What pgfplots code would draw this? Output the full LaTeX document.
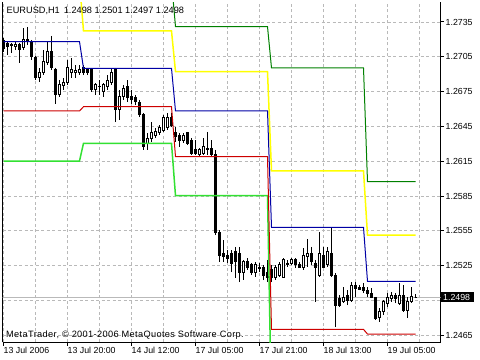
\documentclass[border=0pt]{standalone}
\usepackage{fontspec}
\setmainfont{Liberation Sans}
\newfontfamily\mtwide[LetterSpace=4]{Liberation Sans}
\usepackage{pgfplots}
\usepackage{pgfplotstable}
\pgfplotsset{compat=1.18}
\usepgfplotslibrary{statistics}
\definecolor{mtblue}{RGB}{0,0,165}
\definecolor{mtred}{RGB}{205,0,0}
\definecolor{mtgreen}{RGB}{0,128,0}
\definecolor{mtlime}{RGB}{50,225,50}
\definecolor{mtyellow}{RGB}{255,255,0}
\definecolor{mtgrid}{RGB}{185,185,185}
\pgfplotsset{candle/.style={draw=black, line width=1bp, boxplot/draw direction=y, boxplot/box extend=0.5, boxplot/whisker extend=0}}
\begin{document}
\pgfplotstableread{
i l bl bh h t
0 1.27092 1.27118 1.27187 1.27212 0
1 1.27066 1.27143 1.27161 1.27178 0
2 1.27083 1.27148 1.27152 1.27169 0
3 1.27109 1.27143 1.27152 1.27178 1
4 1.26997 1.27109 1.27152 1.27169 0
5 1.27109 1.27126 1.27195 1.27299 1
6 1.27152 1.27187 1.27195 1.27307 0
7 1.27023 1.27049 1.27178 1.27195 0
8 1.26850 1.26868 1.27040 1.27057 0
9 1.26833 1.26868 1.26919 1.26954 1
10 1.26893 1.26911 1.27006 1.27109 1
11 1.26980 1.26997 1.27092 1.27178 1
12 1.26937 1.26954 1.27092 1.27230 0
13 1.26644 1.26721 1.26937 1.26954 0
14 1.26704 1.26721 1.26807 1.26850 1
15 1.26764 1.26799 1.26825 1.26868 1
16 1.26807 1.26825 1.26954 1.27023 1
17 1.26868 1.26919 1.26937 1.27040 1
18 1.26868 1.26919 1.26928 1.26980 1
19 1.26893 1.26911 1.26937 1.26980 1
20 1.26893 1.26919 1.26954 1.26980 0
21 1.26893 1.26919 1.26937 1.26954 0
22 1.26747 1.26764 1.26937 1.26954 0
23 1.26721 1.26764 1.26807 1.26825 1
24 1.26721 1.26790 1.26795 1.26850 1
25 1.26704 1.26747 1.26807 1.26825 1
26 1.26764 1.26790 1.26850 1.26893 1
27 1.26807 1.26825 1.26919 1.26954 1
28 1.26488 1.26592 1.26937 1.26954 0
29 1.26506 1.26592 1.26704 1.26764 1
30 1.26678 1.26704 1.26781 1.26807 1
31 1.26661 1.26695 1.26790 1.26850 0
32 1.26644 1.26678 1.26704 1.26764 0
33 1.26635 1.26661 1.26695 1.26721 0
34 1.26531 1.26549 1.26652 1.26678 0
35 1.26247 1.26273 1.26549 1.26566 0
36 1.26247 1.26307 1.26350 1.26394 1
37 1.26316 1.26342 1.26394 1.26488 1
38 1.26350 1.26376 1.26402 1.26437 1
39 1.26376 1.26394 1.26437 1.26462 1
40 1.26402 1.26419 1.26523 1.26549 1
41 1.26419 1.26445 1.26531 1.26566 1
42 1.26445 1.26462 1.26531 1.26566 0
43 1.26316 1.26359 1.26394 1.26445 0
44 1.26273 1.26333 1.26376 1.26394 0
45 1.26307 1.26333 1.26376 1.26394 1
46 1.26290 1.26307 1.26394 1.26402 0
47 1.26204 1.26221 1.26333 1.26350 0
48 1.26204 1.26221 1.26247 1.26333 0
49 1.26187 1.26204 1.26247 1.26264 1
50 1.26204 1.26221 1.26273 1.26350 1
51 1.26204 1.26247 1.26264 1.26402 0
52 1.26187 1.26204 1.26264 1.26333 0
53 1.25514 1.25540 1.26204 1.26247 0
54 1.25282 1.25342 1.25532 1.25557 0
55 1.25282 1.25325 1.25359 1.25471 0
56 1.25273 1.25316 1.25342 1.25385 0
57 1.25195 1.25273 1.25359 1.25385 0
58 1.25144 1.25282 1.25368 1.25411 0
59 1.25109 1.25187 1.25359 1.25411 0
60 1.25126 1.25187 1.25282 1.25299 1
61 1.25213 1.25238 1.25282 1.25316 0
62 1.25169 1.25195 1.25256 1.25273 0
63 1.25152 1.25187 1.25256 1.25282 1
64 1.25195 1.25226 1.25230 1.25273 0
65 1.25126 1.25169 1.25230 1.25256 0
66 1.25109 1.25152 1.25195 1.25299 0
67 1.25109 1.25144 1.25213 1.25256 0
68 1.25126 1.25144 1.25230 1.25256 1
69 1.25152 1.25169 1.25256 1.25282 1
70 1.25144 1.25152 1.25299 1.25316 1
71 1.25238 1.25256 1.25273 1.25299 1
72 1.25256 1.25273 1.25299 1.25316 1
73 1.25230 1.25256 1.25299 1.25316 0
74 1.25230 1.25230 1.25256 1.25282 0
75 1.25213 1.25230 1.25342 1.25402 1
76 1.25238 1.25325 1.25359 1.25480 1
77 1.25256 1.25282 1.25359 1.25411 0
78 1.24937 1.25230 1.25273 1.25299 0
79 1.25152 1.25169 1.25359 1.25540 1
80 1.25230 1.25238 1.25342 1.25411 0
81 1.25238 1.25256 1.25368 1.25411 1
82 1.25152 1.25169 1.25359 1.25583 0
83 1.24721 1.24911 1.25169 1.25187 0
84 1.24894 1.24911 1.24971 1.24997 0
85 1.24928 1.24937 1.24980 1.25066 1
86 1.24911 1.24954 1.24997 1.25040 0
87 1.24937 1.24954 1.25083 1.25109 1
88 1.24980 1.25057 1.25075 1.25109 0
89 1.25040 1.25049 1.25066 1.25083 0
90 1.25014 1.25040 1.25066 1.25101 0
91 1.24980 1.25014 1.25040 1.25066 0
92 1.24971 1.24980 1.25014 1.25057 0
93 1.24782 1.24799 1.24980 1.24980 0
94 1.24764 1.24807 1.24851 1.24885 1
95 1.24825 1.24851 1.24937 1.24954 1
96 1.24894 1.24928 1.24980 1.25014 1
97 1.24937 1.24971 1.24997 1.25023 1
98 1.24928 1.24971 1.24997 1.25014 0
99 1.24911 1.24928 1.24997 1.25101 1
100 1.24851 1.24868 1.24997 1.25083 0
101 1.24799 1.24868 1.24937 1.24980 1
102 1.24928 1.24937 1.24988 1.25066 1
103 1.24970 1.24980 1.24980 1.25010 1
}\candles
\begin{tikzpicture}
\useasboundingbox (0,0) rectangle (480bp,360bp);
\begin{axis}[
  at={(2.5bp,17.5bp)}, anchor=south west,
  scale only axis, width=438bp, height=340bp,
  xmin=-0.25, xmax=109.25, ymin=1.24588, ymax=1.27518,
  axis x line*=bottom, axis y line*=box,
  axis line style={black, line width=1bp},
  xtick={0,16,32,48,64,80,96},
  minor xtick={8,24,40,56,72,88,104},
  xticklabels={13 Jul 2006,13 Jul 20:00,14 Jul 12:00,17 Jul 05:00,17 Jul 21:00,18 Jul 13:00,19 Jul 05:00},
  ytick={1.2465,1.2495,1.2525,1.2555,1.2585,1.2615,1.2645,1.2675,1.2705,1.2735},
  yticklabels={1.2465,,1.2525,1.2555,1.2585,1.2615,1.2645,1.2675,1.2705,1.2735},
  ytick pos=right, yticklabel pos=right, xtick pos=bottom,
  tick align=outside, major tick length=3.5bp, minor tick length=0pt,
  tick style={black, line width=1bp},
  xmajorgrids, xminorgrids, ymajorgrids,
  grid style={mtgrid, line width=0.8bp, dash pattern=on 3bp off 2.5bp},
  minor grid style={mtgrid, line width=0.8bp, dash pattern=on 3bp off 2.5bp},
  every tick label/.append style={font=\fontsize{8.8bp}{10bp}\selectfont, text=black},
  xticklabel style={anchor=north west, inner xsep=0pt, inner ysep=1bp},
  yticklabel style={anchor=west, inner xsep=1.5bp},
  extra y ticks={1.2498},
  extra y tick labels={1.2498},
  extra y tick style={grid=none, major tick length=0pt,
    yticklabel style={fill=black, text=white, inner xsep=3.5bp, inner ysep=1.6bp, xshift=-1bp}},
  clip=true,
]
\addplot[gray!55, line width=1bp] coordinates {(-1,1.2498) (110,1.2498)};
\pgfplotsinvokeforeach{0,...,103}{
  \pgfplotstablegetelem{#1}{t}\of\candles
  \ifnum\pgfplotsretval=1 \def\cfill{white}\else\def\cfill{black}\fi
  \pgfplotstablegetelem{#1}{l}\of\candles \let\cl\pgfplotsretval
  \pgfplotstablegetelem{#1}{bl}\of\candles \let\cbl\pgfplotsretval
  \pgfplotstablegetelem{#1}{bh}\of\candles \let\cbh\pgfplotsretval
  \pgfplotstablegetelem{#1}{h}\of\candles \let\ch\pgfplotsretval
  \edef\doplot{\noexpand\addplot[candle, fill=\cfill,
    boxplot prepared={draw position=#1, lower whisker=\cl, lower quartile=\cbl, median=\cbl, upper quartile=\cbh, upper whisker=\ch}] coordinates {};}
  \doplot
}
\addplot[mtlime, line width=1.5bp] coordinates {(0,1.26152) (19,1.26152) (20,1.26305) (42,1.26305) (43,1.25853) (66,1.25853) (67,1.2400)};
\addplot[mtred, line width=1bp] coordinates {(0,1.26583) (19,1.26583) (20,1.26620) (42,1.26620) (43,1.26189) (66,1.26189) (67,1.24701) (90,1.24701) (91,1.24661) (103,1.24661)};
\addplot[mtgreen, line width=1bp] coordinates {(42,1.2770) (43,1.27310) (66,1.27310) (67,1.26954) (90,1.26954) (91,1.25974) (103,1.25974)};
\addplot[mtyellow, line width=1.5bp] coordinates {(19,1.2770) (20,1.27273) (42,1.27273) (43,1.26922) (66,1.26922) (67,1.26066) (90,1.26066) (91,1.25514) (103,1.25514)};
\addplot[mtblue, line width=1bp] coordinates {(0,1.27181) (19,1.27181) (20,1.26951) (42,1.26951) (43,1.26583) (66,1.26583) (67,1.25581) (90,1.25581) (91,1.25115) (103,1.25115)};
\end{axis}
\node[anchor=base west, inner sep=0pt, font=\fontsize{9.2bp}{11bp}\selectfont] at (6.5bp,346bp) {EURUSD,H1\hspace{4bp}1.2498 1.2501 1.2497 1.2498};
\node[anchor=base west, inner sep=0pt, font=\mtwide\fontsize{9.2bp}{11bp}\selectfont] at (6bp,22.5bp) {MetaTrader, © 2001-2006 MetaQuotes Software Corp.};
\end{tikzpicture}
\end{document}
